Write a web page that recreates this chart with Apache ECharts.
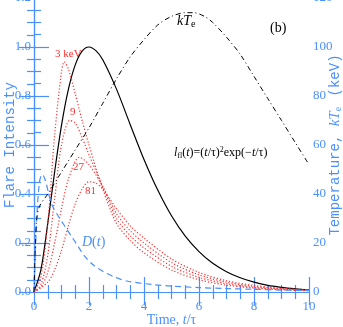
<!DOCTYPE html>
<html>
<head>
<meta charset="utf-8">
<script src="https://cdn.jsdelivr.net/npm/echarts@6/dist/echarts.min.js"></script>
<style>
  html, body { margin: 0; padding: 0; background: #fff; }
  #chart { width: 343px; height: 327px; }
</style>
</head>
<body>
<div id="chart"></div>
<script>
// time axis samples (t/tau) and flare intensity I_fl
var tFlare = [0, 0.25, 0.5, 0.75, 1, 1.25, 1.5, 1.75, 2, 2.25, 2.5, 3, 3.5, 4, 4.5, 5, 5.5, 6, 6.5, 7, 7.5, 8, 8.5, 9, 9.5, 10];
var iFlare = [0, 0.09, 0.28, 0.49, 0.68, 0.827, 0.927, 0.983, 1.0, 0.985, 0.948, 0.828, 0.683, 0.541, 0.416, 0.311, 0.228, 0.165, 0.117, 0.083, 0.058, 0.04, 0.027, 0.019, 0.013, 0.008];

// red dotted curves, 3 / 9 / 27 / 81 keV
var t3 = [0, 0.25, 0.5, 0.75, 1, 1.1, 1.25, 1.5, 1.75, 2, 2.5, 3, 3.5, 4, 5, 6, 7, 8, 9, 10];
var v3 = [0, 0.06, 0.28, 0.64, 0.9, 0.94, 0.91, 0.81, 0.7, 0.6, 0.42, 0.28, 0.21, 0.16, 0.09, 0.05, 0.028, 0.016, 0.009, 0.005];
var t9 = [0, 0.25, 0.5, 0.75, 1, 1.3, 1.5, 1.75, 2, 2.5, 3, 3.5, 4, 5, 6, 7, 8, 9, 10];
var v9 = [0, 0.03, 0.15, 0.38, 0.6, 0.7, 0.69, 0.63, 0.56, 0.43, 0.3, 0.23, 0.18, 0.105, 0.06, 0.034, 0.019, 0.011, 0.006];
var t27 = [0, 0.25, 0.5, 0.75, 1, 1.25, 1.65, 2, 2.5, 3, 3.5, 4, 5, 6, 7, 8, 9, 10];
var v27 = [0, 0.02, 0.08, 0.2, 0.34, 0.46, 0.55, 0.52, 0.43, 0.32, 0.25, 0.2, 0.12, 0.07, 0.04, 0.023, 0.013, 0.007];
var t81 = [0, 0.5, 0.75, 1, 1.25, 1.5, 1.75, 2, 2.25, 2.5, 3, 3.5, 4, 5, 6, 7, 8, 9, 10];
var v81 = [0, 0.04, 0.09, 0.17, 0.27, 0.36, 0.42, 0.45, 0.445, 0.42, 0.34, 0.27, 0.22, 0.135, 0.08, 0.046, 0.027, 0.015, 0.009];

// blue dashed D(t)
var tD = [0, 0.1, 0.2, 0.3, 0.4, 0.64, 0.88, 1.13, 1.37, 1.61, 1.85, 2.16, 2.52, 2.95, 3.37, 4.33, 5, 6, 7, 8, 9, 10];
var vD = [0, 0.3, 0.45, 0.48, 0.46, 0.36, 0.31, 0.267, 0.226, 0.185, 0.145, 0.11, 0.083, 0.06, 0.045, 0.03, 0.024, 0.018, 0.014, 0.011, 0.008, 0.006];

// dash-dot kT_e (keV, right axis)
var tKT = [0, 0.03, 0.06, 0.1, 0.2, 0.5, 1, 1.5, 2, 2.5, 3, 3.5, 4, 4.5, 5, 5.5, 5.8, 6.2, 6.5, 7, 7.5, 8, 8.5, 9, 9.5, 10];
var vKT = [0, 12, 22, 30, 35, 40, 49, 58, 67, 77, 87, 96, 103, 109, 112.5, 114, 114, 112.5, 110, 104, 97, 88, 79, 70, 61, 52];

var xTicks = [0, 2, 4, 6, 8, 10];
var leftTicks = [0, 0.2, 0.4, 0.6, 0.8, 1.0, 1.2];
var rightTicks = [0, 20, 40, 60, 80, 100, 120];

var blue = '#4a90ff';
var red = '#ff3030';

function zip(a, b) {
  return a.map(function (x, i) { return [x, b[i]]; });
}

function ticks(show) {
  return {
    axisLine: { show: true, lineStyle: { color: blue, width: 1.2 } },
    axisTick: { show: true, inside: true, length: 15, lineStyle: { color: blue, width: 1.2 } },
    minorTick: { show: true, splitNumber: 4, length: 7, lineStyle: { color: blue, width: 1.2 } },
    splitLine: { show: false },
    axisLabel: { show: show, color: blue, fontFamily: 'Liberation Serif', fontSize: 13 }
  };
}

var chart = echarts.init(document.getElementById('chart'), null, { renderer: 'canvas' });

var xBottom = Object.assign(ticks(true), {
  type: 'value', position: 'bottom', min: xTicks[0], max: xTicks[xTicks.length - 1], interval: 2,
  name: '{n|Time, }{i|t}{n|/τ}', nameLocation: 'middle', nameGap: 21, nameMoveOverlap: false,
  nameTextStyle: {
    color: blue,
    rich: {
      n: { fontFamily: 'Liberation Serif', fontSize: 14, color: blue },
      i: { fontFamily: 'Liberation Serif', fontStyle: 'italic', fontSize: 14, color: blue }
    }
  }
});
xBottom.axisLabel.margin = 8;

var xTop = Object.assign(ticks(false), {
  type: 'value', position: 'top', min: 0, max: 10, interval: 2
});
xTop.axisTick.length = 13;

var yLeft = Object.assign(ticks(true), {
  type: 'value', position: 'left', min: leftTicks[0], max: leftTicks[leftTicks.length - 1], interval: 0.2,
  name: 'Flare Intensity', nameLocation: 'middle', nameGap: 17, nameRotate: 90, nameMoveOverlap: false,
  nameTextStyle: { color: blue, fontFamily: 'Liberation Mono', fontSize: 14 }
});
yLeft.axisLabel.formatter = function (v) { return v.toFixed(1); };
yLeft.axisLabel.margin = 3;

var yRight = Object.assign(ticks(true), {
  type: 'value', position: 'right', min: rightTicks[0], max: rightTicks[rightTicks.length - 1], interval: 20,
  name: '{n|Temperature, }{i|kT}{s|e}{n| (keV)}', nameLocation: 'middle', nameGap: 18, nameRotate: 90,
  nameMoveOverlap: false,
  nameTextStyle: {
    color: blue,
    rich: {
      n: { fontFamily: 'Liberation Mono', fontSize: 14, color: blue },
      i: { fontFamily: 'Liberation Serif', fontStyle: 'italic', fontSize: 15, color: blue },
      s: { fontFamily: 'Liberation Serif', fontSize: 10, color: blue, padding: [6, 2, 0, 0] }
    }
  }
});
yRight.axisLabel.margin = 4;

function redLine(t, v) {
  return {
    type: 'line', data: zip(t, v), smooth: 0.3, showSymbol: false, silent: true,
    lineStyle: { color: red, width: 1.2, type: [1.2, 2] }
  };
}

var option = {
  animation: false,
  backgroundColor: '#fff',
  grid: { left: 34, right: 34, top: -2, bottom: 35, outerBoundsMode: 'none', containLabel: false },
  xAxis: [xBottom, xTop],
  yAxis: [yLeft, yRight],
  series: [
    {
      type: 'line', data: zip(tFlare, iFlare), smooth: 0.3, showSymbol: false, silent: true,
      lineStyle: { color: '#000', width: 1.2 }
    },
    redLine(t3, v3),
    redLine(t9, v9),
    redLine(t27, v27),
    redLine(t81, v81),
    {
      type: 'line', data: zip(tD, vD), smooth: 0.3, showSymbol: false, silent: true,
      lineStyle: { color: blue, width: 1.2, type: [6, 4] }
    },
    {
      type: 'line', yAxisIndex: 1, data: zip(tKT, vKT), smooth: 0.3, showSymbol: false, silent: true,
      lineStyle: { color: '#000', width: 1, type: [5, 3, 1, 3] }
    }
  ],
  graphic: [
    { type: 'text', left: 55, top: 49, style: { text: '3 keV', fill: red, font: '11px "Liberation Serif"' } },
    { type: 'text', left: 70, top: 107, style: { text: '9', fill: red, font: '11px "Liberation Serif"' } },
    { type: 'text', left: 73, top: 162, style: { text: '27', fill: red, font: '11px "Liberation Serif"' } },
    { type: 'text', left: 85, top: 186, style: { text: '81', fill: red, font: '11px "Liberation Serif"' } },
    {
      type: 'text', left: 82, top: 235,
      style: {
        text: '{i|D}{n|(}{i|t}{n|)}',
        rich: {
          i: { fill: blue, font: 'italic 14px "Liberation Serif"' },
          n: { fill: blue, font: '14px "Liberation Serif"' }
        }
      }
    },
    {
      type: 'text', left: 177, top: 14,
      style: {
        text: '{i|kT}{s|e}',
        rich: {
          i: { fill: '#000', font: 'italic 14px "Liberation Serif"' },
          s: { fill: '#000', font: '10px "Liberation Serif"', padding: [7, 0, 0, 0] }
        }
      }
    },
    { type: 'text', left: 270, top: 21, style: { text: '(b)', fill: '#000', font: '14px "Liberation Serif"' } },
    {
      type: 'text', left: 174, top: 146,
      style: {
        text: '{i|l}{s|fl}{n|(}{i|t}{n|)=(}{i|t}{n|/τ)}{p|2}{n|exp(−}{i|t}{n|/τ)}',
        rich: {
          i: { fill: '#000', font: 'italic 12px "Liberation Serif"' },
          n: { fill: '#000', font: '12px "Liberation Serif"' },
          s: { fill: '#000', font: '8px "Liberation Serif"', padding: [6, 0, 0, 0] },
          p: { fill: '#000', font: '8px "Liberation Serif"', padding: [0, 0, 6, 0] }
        }
      }
    }
  ]
};

chart.setOption(option);
</script>
</body>
</html>
